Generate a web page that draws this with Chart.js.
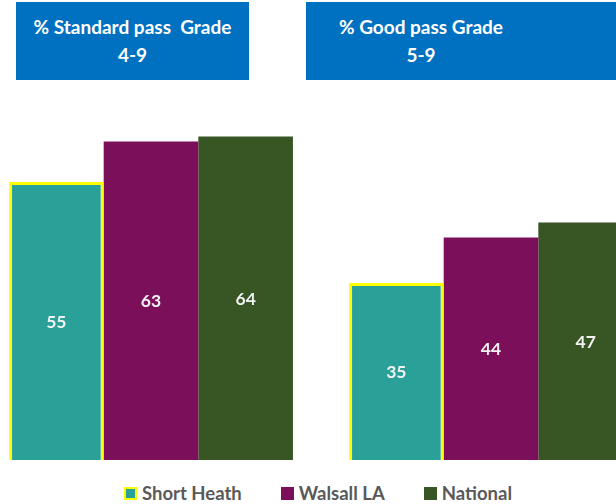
<!DOCTYPE html>
<html>
<head>
<meta charset="utf-8">
<script src="https://cdn.jsdelivr.net/npm/chart.js@4"></script>
<style>
  html, body { margin: 0; padding: 0; width: 616px; height: 504px; overflow: hidden; background: #fff; font-family: Lato, sans-serif; }
  .hdr { position: absolute; top: 2px; height: 78px; background: #0070C0; color: #fff; font-weight: bold; font-size: 19px; line-height: 28px; }
  .hdr div { position: absolute; top: 11px; text-align: center; }
  #wrap { position: absolute; left: -19px; top: 0; width: 680px; height: 460px; }
  #legend { position: absolute; top: 482px; left: 124px; display: flex; font-weight: bold; font-size: 18.5px; color: #595959; line-height: 22px; }
  #legend span.item { display: flex; align-items: center; margin-right: 39px; }
  #legend span.box { display: inline-block; width: 9px; height: 9px; margin-right: 5px; box-sizing: content-box; }
</style>
</head>
<body>
<div class="hdr" style="left:16px; width:233px;"><div style="left:0; width:233px;">% Standard pass&nbsp; Grade<br>4-9</div></div>
<div class="hdr" style="left:306px; width:310px;"><div style="left:0; width:230px;">% Good pass Grade<br>5-9</div></div>
<div id="wrap"><canvas id="chart"></canvas></div>
<div id="legend"></div>
<script>
const categories = ['Standard pass 4-9', 'Good pass 5-9'];
const seriesNames = ['Short Heath', 'Walsall LA', 'National'];
const shortHeath = [55, 35];
const walsallLA = [63, 44];
const national = [64, 47];
const seriesColors = ['#2AA198', '#7B0F5A', '#375623'];

const valueLabels = {
    id: 'valueLabels',
    afterDatasetsDraw(chart) {
        const ctx = chart.ctx;
        ctx.save();
        ctx.fillStyle = '#F2F2F2';
        ctx.font = 'bold 17.5px Lato';
        ctx.textAlign = 'center';
        ctx.textBaseline = 'middle';
        chart.data.datasets.forEach((ds, i) => {
            chart.getDatasetMeta(i).data.forEach((bar, j) => {
                ctx.fillText(ds.data[j], bar.x, (bar.y + bar.base) / 2 + 1);
            });
        });
        ctx.restore();
    }
};

const ctx = document.getElementById('chart').getContext('2d');
new Chart(ctx, {
    type: 'bar',
    data: {
        labels: categories,
        datasets: [
            { label: seriesNames[0], data: shortHeath, backgroundColor: seriesColors[0], borderColor: '#FFFF00', borderWidth: 3 },
            { label: seriesNames[1], data: walsallLA, backgroundColor: seriesColors[1] },
            { label: seriesNames[2], data: national, backgroundColor: seriesColors[2] }
        ]
    },
    options: {
        responsive: true,
        maintainAspectRatio: false,
        animation: false,
        layout: { padding: 0 },
        datasets: { bar: { categoryPercentage: 0.835, barPercentage: 1.0 } },
        scales: {
            x: { display: false },
            y: { display: false, min: 0, max: 91 }
        },
        plugins: {
            legend: { display: false },
            tooltip: { enabled: false }
        }
    },
    plugins: [valueLabels]
});

const legendEl = document.getElementById('legend');
legendEl.innerHTML = seriesNames.map((name, i) => {
    const border = i === 0 ? 'border:2px solid #FFFF00;' : 'border:2px solid ' + seriesColors[i] + ';';
    return `<span class="item"><span class="box" style="background:${seriesColors[i]};${border}"></span>${name}</span>`;
}).join('');
</script>
</body>
</html>
